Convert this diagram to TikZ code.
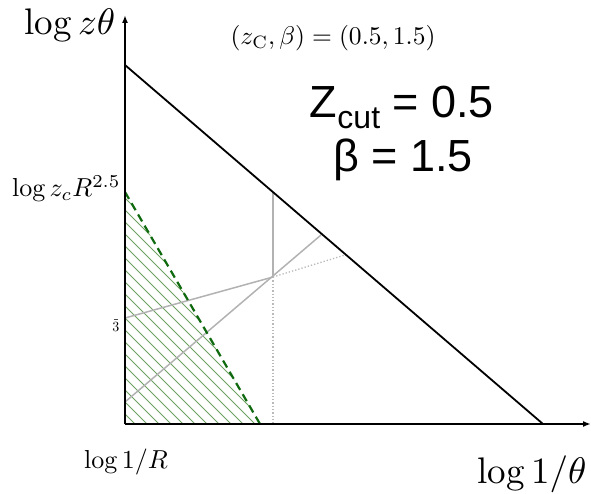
\documentclass[tikz,border=0pt]{standalone}
\usepackage{amsmath,amssymb}
\usepackage{fontspec}
\newfontfamily\arialfont{Liberation Sans}
\usetikzlibrary{arrows.meta, calc}

\definecolor{hatchgreen}{RGB}{110,160,95}
\definecolor{cutgreen}{RGB}{15,105,15}

\begin{document}
\begin{tikzpicture}[
    x=1pt, y=-1pt,
    axis/.style={line width=1.8pt, -{Latex[length=8pt, width=6pt]}},
    boundary/.style={line width=1.8pt},
    cutline/.style={line width=2.2pt, dashed, dash pattern=on 8pt off 5pt, cutgreen},
    hatch/.style={line width=0.8pt, hatchgreen},
    ray/.style={line width=1.5pt, gray!60},
    rayext/.style={line width=1.3pt, gray!55, dotted},
    lbl/.style={inner sep=0pt}
]
\useasboundingbox (0,0) rectangle (591,494);

% Points
\coordinate (origin) at (125,424);
\coordinate (ytip) at (125,15);
\coordinate (xtip) at (591,424);
\coordinate (top) at (125,65);
\coordinate (bottom) at (543,424);
\coordinate (cuttop) at (125,192);
\coordinate (cutbot) at (260,424);
\coordinate (meet) at (273,277);
\coordinate (vtop) at (273,192);
\coordinate (vbot) at (273,424);
\coordinate (raya) at (125,318);
\coordinate (rayaend) at (345,255);
\coordinate (rayb) at (125,402);
\coordinate (raybend) at (321,235);

% Hatched region
\begin{scope}
  \clip (origin) -- (cuttop) -- (cutbot) -- cycle;
  \foreach \k in {-250,-238,...,20}
    \draw[hatch] (125,424+\k) -- ++(300,300);
\end{scope}

% Rays
\draw[ray] (vtop) -- (meet);
\draw[rayext] (meet) -- (vbot);
\draw[ray] (raya) -- (meet);
\draw[rayext] (meet) -- (rayaend);
\draw[ray] (rayb) -- (raybend);

% Cut line
\draw[cutline] (cuttop) -- (cutbot);

% Axes and boundary
\draw[axis] (origin) -- (ytip);
\draw[axis] (origin) -- (xtip);
\draw[boundary] (top) -- (bottom);

% Labels
\node[lbl, anchor=base, scale=3.7] (ylabel) at (70,35) {$\log z\theta$};
\node[lbl, anchor=base, scale=3.7] (xlabel) at (532,483) {$\log 1/\theta$};
\node[lbl, anchor=base, scale=2.55] (params) at (333,45) {$(z_{\mathrm{C}},\beta)=(0.5,1.5)$};
\node[lbl, anchor=base east, scale=2.6] (zcR) at (121,197) {$\log z_cR^{2.5}$};
\node[lbl, anchor=base, scale=2.6] (logR) at (126,468) {$\log 1/R$};
\draw[line width=0.6pt, black!70] (113.5,319) -- (117.5,319);
\begin{scope}
  \clip (112,321) rectangle (120,336);
  \node[lbl, anchor=base west, scale=1.4] (frag) at (112,331) {$3$};
\end{scope}
\node[lbl, anchor=base, font=\arialfont\fontsize{45}{50}\selectfont] (zcut) at (402,118)
  {Z\smash{\raisebox{-11pt}{\fontsize{32}{34}\selectfont cut}} = 0.5};
\node[lbl, anchor=base, font=\arialfont\fontsize{45}{50}\selectfont] (beta) at (403,172) {β = 1.5};

\end{tikzpicture}
\end{document}
